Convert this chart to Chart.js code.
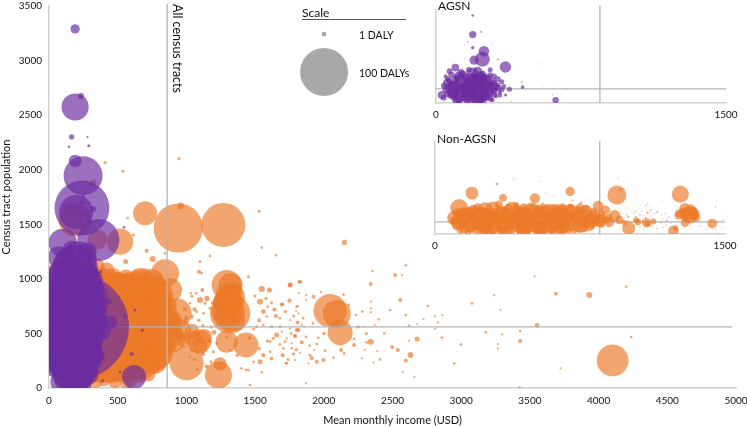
<!DOCTYPE html>
<html>
<head>
<meta charset="utf-8">
<script src="https://cdn.jsdelivr.net/npm/chart.js@4"></script>
<style>
  html, body { margin:0; padding:0; background:#fff; }
  #wrap { position:relative; width:747px; height:428px; overflow:hidden; font-family:Lato, sans-serif; color:#111; }
  canvas { position:absolute; }
  .lbl { position:absolute; white-space:nowrap; line-height:1; }
</style>
</head>
<body>
<div id="wrap">
  <canvas id="mainChart" width="747" height="428" style="left:0;top:0"></canvas>
  <canvas id="agsnChart" width="327" height="125" style="left:420px;top:0"></canvas>
  <canvas id="nonChart" width="327" height="130" style="left:420px;top:125px"></canvas>
  <div class="lbl" style="left:172px;top:4px;font-size:12.5px;transform-origin:0 0;transform:translate(11px,0) rotate(90deg)">All census tracts</div>
  <div class="lbl" style="left:302px;top:7px;font-size:12px">Scale</div>
  <div style="position:absolute;left:302px;top:19px;width:104px;height:1px;background:#555"></div>
  <div class="lbl" style="left:359px;top:30px;font-size:10.5px">1 DALY</div>
  <div class="lbl" style="left:359px;top:68px;font-size:10.5px">100 DALYs</div>
  <div class="lbl" style="left:438px;top:0px;font-size:12px">AGSN</div>
  <div class="lbl" style="left:437px;top:133px;font-size:12px">Non-AGSN</div>
</div>
<script>
// non-AGSN census tracts: income, population, DALYs
const nonIncome = [941,1269,699,517,844,881,772,1002,1233,1245,1293,1322,1318,1330,1293,1434,1293,1094,954,929,2046,2095,2119,4102,191,352,125,
  300,400,500,600,700,780,350,450,550,650,750,820,850,900,350,450,550,650,750,800,450,550,380,650,
  100,150,200,250,120,180,250,300,150,220,280,350,200,260,330,420,560,640,700,660,750,480,560,400,600,
  755,711,558,844,614,1099,1172,1092,1111,1451,1548,1652,1548,1604,1755,1820,1803,1701,1592,1536,1500,1031,1070,1116,1099,1026,1136,990,1075,1124,1039,1172,1512,1560,1621,1652,1585,1682,1803,1657,1633,1609,1791,1718,1767,1779,1725,1609,1536,1548,1463,1451,1488,1434,1075,1124,1039,1026,1148,1196,1221,1318,1293,
  408,539,946,1530,959,573,320,
  2150,2597,2354,2519,2570,2342,1755,1828,3534,4201,3689,3932,3240,2556,2143,1978,1820,1925,1871,1871,2345,3078,2757,1694,1811,1798,1815,2342,2342,2483,3286,2235,2597,2808,2864,2400,2726,2830,2679,2619,2369,2289,1755,1920,1840,1857,3553,2811,3429,3179,3298,4237,3429,2859,2679,2342,2313,2621,2999,3267,3267,2497,2539,2631,2597,2410,2362,2277,2388,2298,2221,2126,2148,2070,1997,1949,1913,1888,2010,1949,1896,1828,1779,1791,1730,1706,1767,1791,1694,1730,1930,2949,2575,2660,3723,1871,3425,1815,1755];
const nonPopulation = [1466,1494,1600,1341,1051,898,241,226,119,220,944,944,684,837,776,394,425,425,531,684,708,678,507,253,1540,1360,977,
  950,900,850,800,830,850,700,650,600,600,600,650,500,450,450,400,350,350,350,300,220,200,180,200,
  600,700,650,600,450,400,350,300,250,200,150,150,850,900,1100,1080,1000,1020,1040,1000,980,60,40,70,130,
  1182,1258,1158,1234,1402,1158,1210,1066,1051,1020,1286,1216,907,898,944,974,745,767,745,791,843,868,868,898,806,776,776,721,699,684,654,730,562,577,562,660,654,562,532,486,455,425,477,425,364,309,226,333,241,144,28,165,241,165,501,425,348,287,196,333,409,348,470,
  2065,1985,2100,1620,1668,1557,1880,
  1334,1124,1072,1035,1032,953,943,974,1023,928,864,852,852,806,855,879,870,837,852,806,791,775,751,766,751,708,684,730,693,714,717,669,669,656,666,629,632,601,589,571,574,562,623,592,577,562,574,543,522,510,491,467,430,461,449,424,418,433,397,403,363,375,348,302,250,262,232,272,339,348,394,348,317,278,256,241,272,226,342,403,388,323,317,256,226,363,409,476,516,455,348,226,149,101,180,42,3,531,546];
const nonDaly = [105,84,25,30,34,25,25,50,32,8,39,25,70,30,34,27,21,25,21,39,48,34,27,44,48,17,92,
  60,80,90,90,70,50,100,130,150,140,100,50,50,30,100,130,130,120,80,30,60,40,30,30,
  60,80,120,130,60,90,100,80,40,40,30,20,50,70,20,10,15,8,7,20,25,8,6,6,10,
  1.6,0.7,1.1,0.3,0.4,0.3,0.3,0.7,0.3,0.4,0.3,0.3,1.6,1.1,1.1,0.4,0.3,0.4,0.3,1.6,0.4,0.3,0.3,0.7,1.6,0.3,0.4,0.7,0.3,0.3,0.7,0.4,0.4,0.3,0.4,0.7,0.3,0.3,0.7,1.1,0.4,0.3,0.3,0.3,0.3,0.3,0.3,0.3,1.1,0.3,0.3,0.3,0.3,0.3,0.4,0.3,0.4,0.3,0.7,0.4,0.3,0.3,0.4,
  0.5,0.4,0.4,0.4,2,0.3,2,
  1.2,0.3,0.3,0.7,0.2,0.7,0.7,0.7,0.2,0.3,0.7,1.6,0.2,0.7,0.3,0.2,0.2,0.7,0.2,0.2,0.2,0.3,0.3,0.7,0.2,0.2,0.2,0.2,0.2,0.3,0.2,0.3,0.3,0.2,0.2,0.3,0.2,0.2,0.2,0.3,0.2,0.2,0.2,0.3,0.2,0.2,1,0.2,0.3,0.3,0.2,0.3,0.7,0.3,1.1,1.6,0.3,0.2,0.3,0.2,0.2,0.7,0.7,1.6,0.7,0.3,0.2,0.2,0.2,0.2,0.7,0.7,0.3,0.3,0.7,0.7,0.7,0.2,0.3,0.3,0.3,0.2,0.2,0.2,0.3,0.3,0.2,0.7,0.2,0.2,0.2,0.3,0.2,0.2,0.2,0.2,0.3,0.7,0.2];

// the dense middle of the non-AGSN cloud
const nonMassIncome = [100,140,180,220,260,300,340,380,420,460,500,540,580,620,660,700,740,780,820,860,
  110,150,190,230,270,310,350,390,430,470,510,550,590,630,670,710,750,790,830,870,
  130,170,210,260,300,340,380,420,460,500,540,580,620,660,700,740,780,820,860,900,
  120,340,440,520,600,660,720,260,
  1260,1290,1340,1350,1280,1300,1340,1310,1260,1350,1050,1100,1130,1040,980,
  110,130,160,190,215,240,275,305,330,365,400,420,440,470,490,510,530,560,580,600,620,640,680,700,720,760,790,810,840,880,
  150,190,240,280,320,370,410,480,530,610,690];
const nonMassPopulation = [500,800,900,1000,750,800,850,980,950,1000,950,920,960,950,900,950,900,950,820,760,
  300,450,550,450,500,560,600,560,780,720,680,760,680,720,700,720,740,700,600,600,
  150,100,300,200,180,250,300,260,300,260,300,250,280,260,240,220,400,430,380,620,
  700,70,120,130,60,110,130,40,
  700,650,700,620,800,850,880,620,780,780,450,380,470,520,430,
  800,640,600,720,800,850,650,700,520,800,700,600,850,520,620,420,830,480,400,560,850,470,520,420,620,500,570,350,480,520,
  330,200,280,400,400,170,390,170,190,170,160];
const nonMassDaly = [20,25,15,20,30,25,30,20,25,20,25,30,20,25,30,25,20,15,20,15,
  20,25,30,25,30,30,30,30,30,30,30,30,30,30,30,30,20,30,25,20,
  15,15,20,20,25,30,30,30,30,30,30,30,30,25,20,20,25,20,15,15,
  20,10,12,12,6,8,10,10,
  20,25,25,20,20,25,15,20,15,15,12,10,10,10,8,
  20,25,25,25,25,25,30,30,30,30,30,30,25,30,30,30,25,30,30,30,20,30,30,30,30,30,25,20,20,15,
  20,20,25,30,30,25,30,25,25,20,15];

// extra small non-AGSN tracts, 1000 to 2500 USD
const nonDotIncome = [1000,1040,1060,1090,1150,1190,1210,1120,1200,1180,1170,1060,1080,1120,1180,1370,1400,1460,1490,1530,1560,1580,1620,1640,1680,1720,1750,1780,1810,1850,1530,1560,1590,1620,1680,1700,1740,1760,1800,1840,1870,1900,1960,2000,2180,2220,2250,2280,2310,2440];
const nonDotPopulation = [640,840,720,620,820,780,640,570,510,560,430,260,170,310,240,300,180,460,540,620,700,820,780,720,640,700,800,660,600,640,360,300,430,270,400,300,260,500,350,420,470,300,460,500,760,450,560,700,500,500];
const nonDotDaly = [1,0.4,0.8,0.5,1.2,0.4,0.7,0.5,1,0.4,0.8,0.5,0.3,0.7,0.4,0.5,0.3,0.6,0.4,0.7,1,0.5,0.4,0.7,0.3,0.5,0.8,0.4,0.7,0.3,0.5,0.8,0.4,0.6,0.3,0.7,0.4,0.3,0.5,0.7,0.3,0.4,0.3,0.5,0.4,0.3,0.5,0.3,0.4,0.3];

// AGSN census tracts
const agsnIncome = [196,240,197,248,190,190,233,190,165,280,146,290,359,619,104,
  100,215,190,230,120,250,130,60,180,250,90,300,180,90,250,150,220,290,320,380,30,120,230,50,280,448,360,
  546,378,444,626,679,602,553,517,391,146,146,238,269,182,320,250,200];
const agsnPopulation = [562,1649,1613,1944,2080,2575,2675,3290,2300,2300,2210,2220,1356,100,58,
  1330,1180,1100,950,1000,800,800,750,700,650,600,620,450,400,300,250,150,120,560,520,300,120,40,1000,1050,600,300,
  1472,1066,791,715,529,312,654,144,67,1668,1625,1700,1600,1814,1640,1754,1580];
const agsnDaly = [488,131,50,66,7,32,1.6,3.8,1.2,0.2,0.3,0.4,77,25,29,
  35,55,90,90,60,110,90,50,120,100,90,40,140,80,70,70,50,15,25,15,40,30,20,10,20,8,6,
  0.3,0.4,1,0.3,0.4,0.7,0.4,0.3,0.4,0.3,0.3,0.5,0.5,0.3,1.5,0.4,0.5];

// the dense middle of the AGSN cloud
const agsnMassIncome = [70,130,170,240,280,150,200,270,60,100,170,220,290,40,80,140,210,280,320,50,110,150,240,300,340,60,120,200,280,40,90,180,260,310,170,250,200,330,
  80,110,140,190,210,250,300,320,70,110,160,190,240,300,340,60,100,130,170,200,230,270,310,350,70,100,140,180,210,260,290,330,75,110,150,190,230,270,300,100,140,200,240,280,120,160,230];
const agsnMassPopulation = [1200,1150,1250,1100,1250,1000,980,930,900,880,860,820,800,650,700,650,600,700,680,500,500,550,500,450,500,350,350,350,380,200,230,230,200,250,120,90,60,400,
  1050,950,1080,1020,900,1000,1000,900,820,760,760,800,720,740,800,600,660,560,620,700,570,600,560,620,450,420,470,500,450,430,520,300,280,290,320,290,300,280,330,170,190,170,190,170,70,60,100];
const agsnMassDaly = [20,30,20,25,15,30,25,30,15,25,30,30,30,20,30,30,30,30,15,25,30,30,30,30,15,25,30,30,25,20,25,30,25,10,25,15,25,8,
  25,30,30,25,30,25,20,20,25,30,30,30,30,25,15,25,30,30,30,30,30,30,20,15,25,30,30,30,30,30,25,15,25,30,30,30,30,25,20,25,30,30,30,20,20,25,25];

// scale key
const keyIncome = [2002,2002];
const keyPopulation = [3243,2895];
const keyDaly = [1,100];

// reference lines
const meanIncome = 860;
const meanPopulation = 560;
const agsnLineIncome = 848;
const agsnLinePopulation = 530;
const nonLineIncome = 852;
const nonLinePopulation = 460;

const mainXTicks = [0,500,1000,1500,2000,2500,3000,3500,4000,4500,5000];
const mainYTicks = [0,500,1000,1500,2000,2500,3000,3500];
const insetXTicks = [0,1500];

const ORANGE = "rgba(236,122,42,.68)";
const PURPLE = "rgba(108,44,160,.68)";
const LINE = "#b4b4b4";
const AXIS = "#d2d2d2";
const TICK_FONT = { family:"Lato, sans-serif", size:10 };

Chart.defaults.font.family = "Lato, sans-serif";
Chart.defaults.color = "#111";

const orangeX = [...nonIncome, ...nonMassIncome, ...nonDotIncome];
const orangeY = [...nonPopulation, ...nonMassPopulation, ...nonDotPopulation];
const orangeD = [...nonDaly, ...nonMassDaly, ...nonDotDaly];
const purpleX = [...agsnIncome, ...agsnMassIncome];
const purpleY = [...agsnPopulation, ...agsnMassPopulation];
const purpleD = [...agsnDaly, ...agsnMassDaly];

function bubbles(xs, ys, ds, k){
  return xs.map((x,i)=>({ x, y:ys[i], r:k*Math.sqrt(ds[i]) }));
}
function refLines(lineX, lineY, xMax, yTop){
  return [
    { type:"line", data:[{x:lineX,y:0},{x:lineX,y:yTop}], borderColor:LINE, borderWidth:1.3, pointRadius:0, clip:false, order:2 },
    { type:"line", data:[{x:0,y:lineY},{x:xMax,y:lineY}], borderColor:LINE, borderWidth:1.3, pointRadius:0, clip:false, order:2 },
  ];
}
function useTicks(list){
  return (scale)=>{ scale.ticks = list.map(v=>({ value:v })); };
}
// no room reserved for the outer tick labels, the layout padding decides
function noLabelPadding(s){
  s.paddingLeft = 0; s.paddingRight = 0; s.paddingTop = 0; s.paddingBottom = 0;
}
function makeChart(id, datasets, cfg){
  return new Chart(document.getElementById(id),{
    type:"bubble",
    data:{ datasets },
    options:{
      responsive:false,
      animation:false,
      events:[],
      layout:{ padding:cfg.padding, autoPadding:false },
      plugins:{ legend:{ display:false }, tooltip:{ enabled:false } },
      scales:{
        x:{
          type:"linear", min:0, max:cfg.xMax,
          afterBuildTicks:useTicks(cfg.xTicks),
          afterFit:(s)=>{ s.height = cfg.xHeight; noLabelPadding(s); },
          grid:{ display:false, drawTicks:false },
          border:{ color:AXIS, width:1.5 },
          ticks:{ font:TICK_FONT, maxRotation:0, autoSkip:false, padding:cfg.xPad, callback:(v)=>String(v) },
          title:cfg.xTitle ? { display:true, text:cfg.xTitle, font:{ size:11 }, padding:{ top:0, bottom:1 } } : { display:false },
        },
        y:{
          type:"linear", min:0, max:3500,
          display:true,
          afterBuildTicks:useTicks(cfg.yTicks),
          afterFit:(s)=>{ s.width = cfg.yWidth; noLabelPadding(s); },
          grid:{ display:false, drawTicks:false },
          border:{ color:AXIS, width:1.5 },
          ticks:{ display:cfg.yTicks.length>0, font:TICK_FONT, autoSkip:false, padding:7, callback:(v)=>String(v) },
          title:cfg.yTitle ? { display:true, text:cfg.yTitle, font:{ size:11 }, padding:{ top:0, bottom:0 } } : { display:false },
        }
      }
    }
  });
}

makeChart("mainChart",[
  { data:bubbles(orangeX,orangeY,orangeD,2.4), backgroundColor:ORANGE, borderWidth:0, order:3 },
  ...refLines(meanIncome,meanPopulation,4972,3520),
  { data:bubbles(purpleX,purpleY,purpleD,2.4), backgroundColor:PURPLE, borderWidth:0, order:1 },
  { data:bubbles(keyIncome,keyPopulation,keyDaly,2.4), backgroundColor:"#a8a8a8", borderWidth:0, order:0 },
],{ padding:{ left:0, right:11, top:6, bottom:0 }, xMax:5000, xTicks:mainXTicks, yTicks:mainYTicks,
    xHeight:40, yWidth:49, xPad:7, xTitle:"Mean monthly income (USD)", yTitle:"Census tract population" });

makeChart("agsnChart",[
  ...refLines(agsnLineIncome,agsnLinePopulation,1500,3660),
  { data:bubbles(purpleX,purpleY,purpleD,0.65), backgroundColor:PURPLE, borderWidth:0, order:1 },
],{ padding:{ left:0, right:21, top:10, bottom:0 }, xMax:1500, xTicks:insetXTicks, yTicks:[],
    xHeight:22, yWidth:16, xPad:6 });

makeChart("nonChart",[
  ...refLines(nonLineIncome,nonLinePopulation,1500,3500),
  { data:bubbles(orangeX,orangeY,orangeD,0.93), backgroundColor:ORANGE, borderWidth:0, order:1 },
],{ padding:{ left:0, right:22, top:16, bottom:0 }, xMax:1500, xTicks:insetXTicks, yTicks:[],
    xHeight:21, yWidth:15, xPad:6 });
</script>
</body>
</html>
